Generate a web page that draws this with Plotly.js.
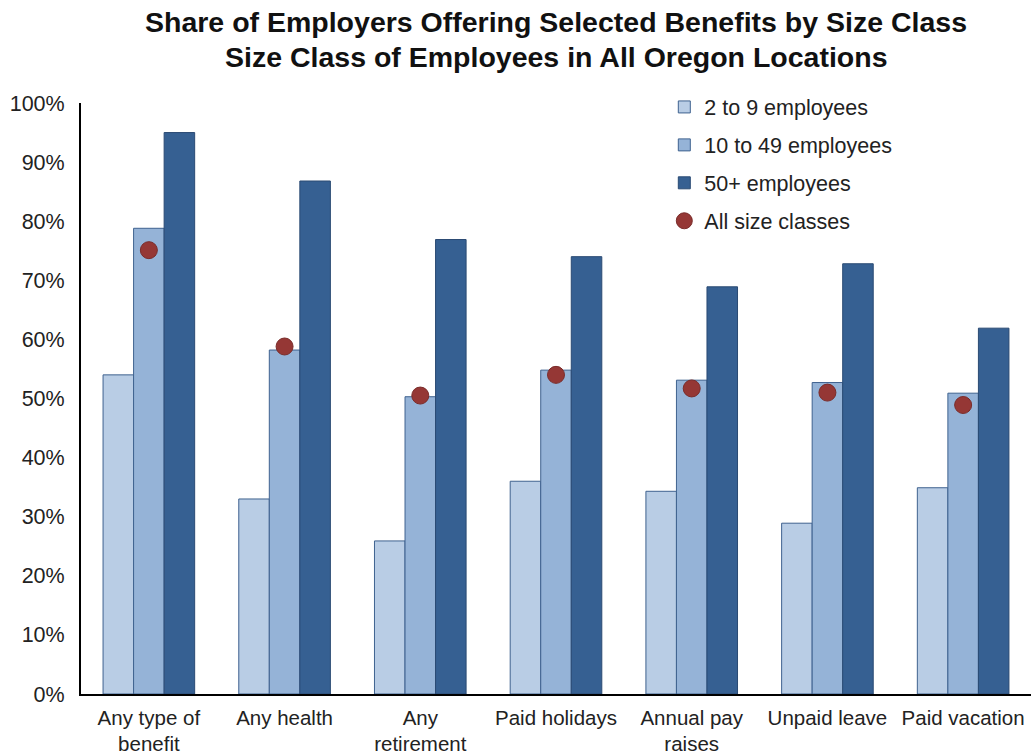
<!DOCTYPE html>
<html>
<head>
<meta charset="utf-8">
<script src="https://cdn.plot.ly/plotly-3.0.1.min.js"></script>
<style>html,body{margin:0;padding:0;background:#fff;}#chart{width:1031px;height:755px;}</style>
</head>
<body>
<div id="chart"></div>
<script>
const categories = ["Any type of<br>benefit", "Any health", "Any<br>retirement", "Paid holidays", "Annual pay<br>raises", "Unpaid leave", "Paid vacation"];
const small = [54.0, 33.0, 25.9, 36.0, 34.3, 28.9, 34.9];
const medium = [78.8, 58.2, 50.3, 54.8, 53.1, 52.7, 50.9];
const large = [95.0, 86.8, 76.9, 74.0, 68.9, 72.8, 61.9];
const allSizes = [75.1, 58.8, 50.5, 54.0, 51.7, 51.0, 48.9];
const yTicks = [0, 10, 20, 30, 40, 50, 60, 70, 80, 90, 100];
const yTickLabels = yTicks.map(v => v + "%");
const titleLines = ["Share of Employers Offering Selected Benefits by Size Class", "Size Class of Employees in All Oregon Locations"];

const FONT = "Liberation Sans, Arial, sans-serif";
const edge = "#3f628f";

const traces = [
  {type: "bar", name: "2 to 9 employees", x: categories, y: small, legendgroup: "a",
   marker: {color: "#b9cde5", line: {color: edge, width: 1}}},
  {type: "bar", name: "10 to 49 employees", x: categories, y: medium, legendgroup: "b",
   marker: {color: "#95b3d7", line: {color: edge, width: 1}}},
  {type: "bar", name: "50+ employees", x: categories, y: large, legendgroup: "c",
   marker: {color: "#366092", line: {color: "#2a4a73", width: 1}}},
  {type: "scatter", mode: "markers", name: "All size classes", x: categories, y: allSizes, legendgroup: "d",
   marker: {color: "#953735", size: 17, line: {color: "#7a2c2a", width: 1}}}
];

const layout = {
  width: 1031, height: 755,
  margin: {l: 81, r: 0, t: 103, b: 61},
  paper_bgcolor: "#ffffff", plot_bgcolor: "#ffffff",
  font: {family: FONT, color: "#222", size: 21.5},
  annotations: titleLines.map((t, i) => ({
    text: "<b>" + t + "</b>", xref: "paper", yref: "paper", x: 0.5, y: 1, xanchor: "center", yanchor: "middle",
    yshift: [81, 46][i], showarrow: false, font: {family: FONT, size: 28.5, color: "#111"}
  })),
  barmode: "group", bargap: 0.325, bargroupgap: 0,
  showlegend: true,
  legend: {x: 0.614, y: 1.028, xanchor: "left", yanchor: "top", traceorder: "grouped", tracegroupgap: 7,
           font: {family: FONT, size: 21.5, color: "#222"}, bgcolor: "rgba(0,0,0,0)"},
  xaxis: {type: "category", range: [-0.5, 6.5], showline: true, linecolor: "#000", linewidth: 2,
          ticks: "", showgrid: false, ticklabelstandoff: 4, tickfont: {family: FONT, size: 20.5, color: "#222"}, fixedrange: true},
  yaxis: {range: [0, 100], tickvals: yTicks, ticktext: yTickLabels, showline: true, linecolor: "#000", linewidth: 2,
          ticks: "", showgrid: false, zeroline: false, ticklen: 0, ticklabelstandoff: 10, tickfont: {family: FONT, size: 21.5, color: "#222"}, fixedrange: true}
};

Plotly.newPlot("chart", traces, layout, {displayModeBar: false, staticPlot: true});
</script>
</body>
</html>
